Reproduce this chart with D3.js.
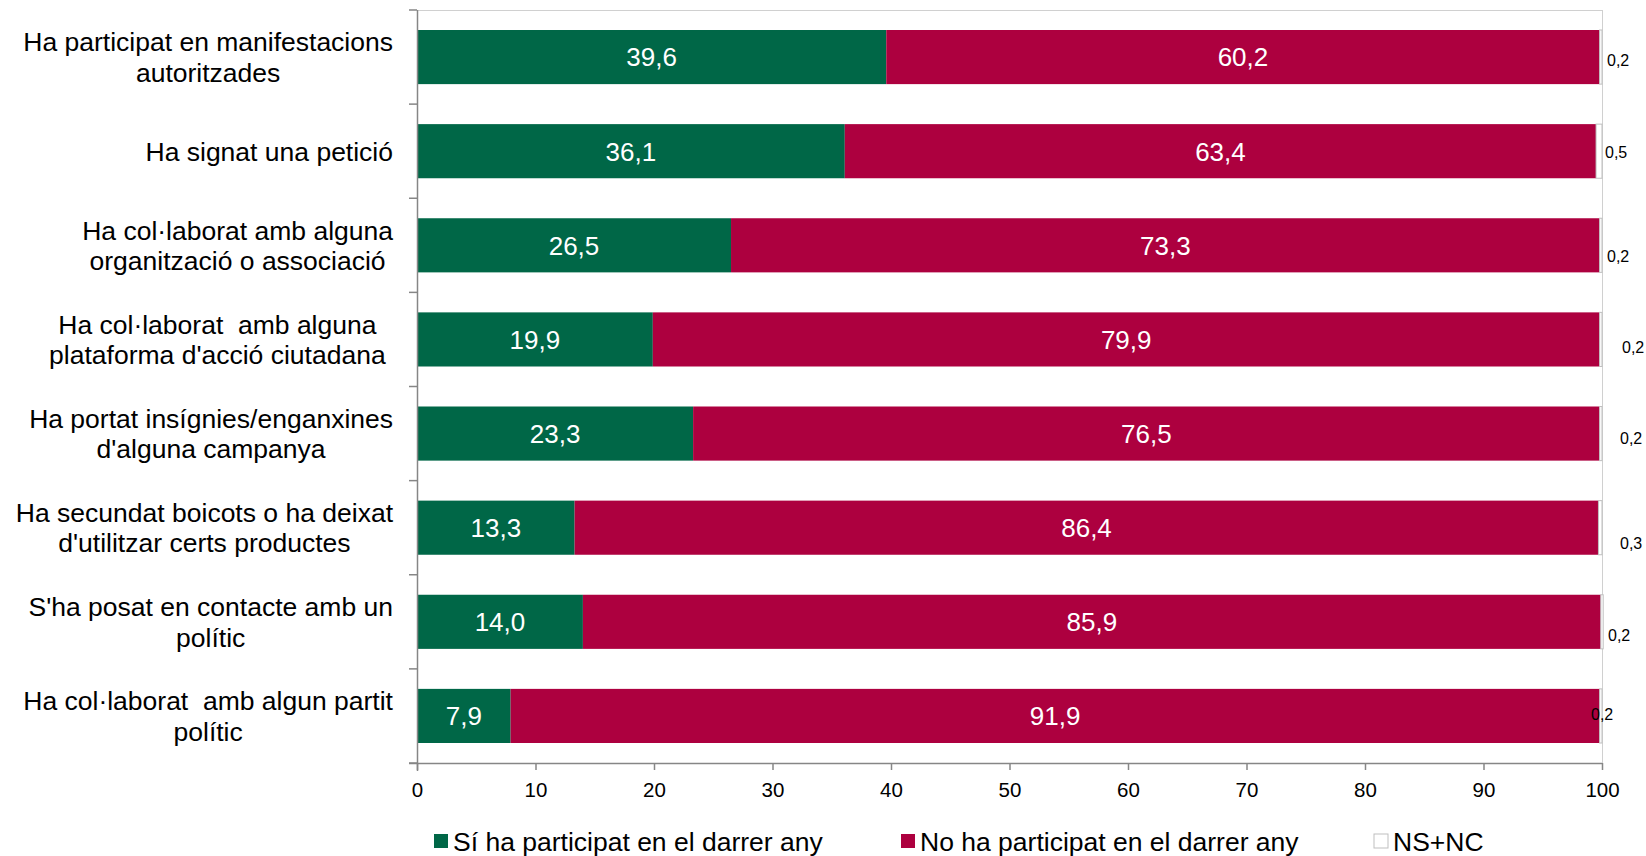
<!DOCTYPE html>
<html><head><meta charset="utf-8">
<script src="https://cdn.jsdelivr.net/npm/d3@7"></script>
<style>
body{margin:0;background:#fff}
text{font-family:"Liberation Sans",Arial,sans-serif;white-space:pre}
</style></head>
<body><svg id="c" width="1646" height="856"></svg>
<script>
// ---- data ----
const categories = [
  "Ha participat en manifestacions\nautoritzades",
  "Ha signat una petició",
  "Ha col·laborat amb alguna\norganització o associació",
  "Ha col·laborat  amb alguna \nplataforma d'acció ciutadana ",
  "Ha portat insígnies/enganxines\nd'alguna campanya",
  "Ha secundat boicots o ha deixat\nd'utilitzar certs productes",
  "S'ha posat en contacte amb un\npolític",
  "Ha col·laborat  amb algun partit\npolític"
];
const si   = [39.6, 36.1, 26.5, 19.9, 23.3, 13.3, 14.0, 7.9];
const no   = [60.2, 63.4, 73.3, 79.9, 76.5, 86.4, 85.9, 91.9];
const nsnc = [0.2, 0.5, 0.2, 0.2, 0.2, 0.3, 0.2, 0.2];
const seriesNames = ["Sí ha participat en el darrer any", "No ha participat en el darrer any", "NS+NC"];
const xTicks = [0, 10, 20, 30, 40, 50, 60, 70, 80, 90, 100];

// ---- layout / style ----
const colors = ["#006747", "#AD003F", "#ffffff"];
const strokes = ["none", "none", "#bfbfbf"];
const nsNudge = [[5,3],[3,1],[5,11],[20,8],[18,5],[18,16],[6,13],[-11,-2]];
const m = {left: 417, right: 1602, top: 10, bottom: 763};

const svg = d3.select("#c");
const keys = ["si","no","nsnc"];
const rows = categories.map((c,i)=>({cat:c, si:si[i], no:no[i], nsnc:nsnc[i]}));
const stack = d3.stack().keys(keys)(rows);

const x = d3.scaleLinear().domain([0,100]).range([m.left, m.right]);
const y = d3.scaleBand().domain(categories).range([m.top, m.bottom]).paddingInner(0.425).paddingOuter(0.2125);
const yb = d3.scaleBand().domain(categories).range([m.top, m.bottom]);
const fmt = v => d3.format(".1f")(v).replace(".", ",");

// plot border (top & right)
svg.append("line").attr("x1", m.left).attr("x2", m.right).attr("y1", m.top+0.5).attr("y2", m.top+0.5).attr("stroke","#d0d0d0");
svg.append("line").attr("x1", m.right+0.5).attr("x2", m.right+0.5).attr("y1", m.top).attr("y2", m.bottom).attr("stroke","#d0d0d0");

// bars
stack.forEach((s,k)=>{
  svg.append("g").selectAll("rect").data(s).join("rect")
    .attr("x", d=>x(d[0]))
    .attr("y", d=>y(d.data.cat))
    .attr("width", d=>Math.max(0, x(d[1])-x(d[0])))
    .attr("height", y.bandwidth())
    .attr("fill", colors[k])
    .attr("stroke", strokes[k])
    .attr("stroke-width", 1);
});

// value labels inside
[0,1].forEach(k=>{
  svg.append("g").selectAll("text").data(stack[k]).join("text")
    .attr("x", d=>(x(d[0])+x(d[1]))/2)
    .attr("y", d=>y(d.data.cat)+y.bandwidth()/2)
    .attr("dy","0.36em")
    .attr("text-anchor","middle")
    .attr("fill","#fff")
    .attr("font-size", 26)
    .text(d=>fmt(d.data[keys[k]]));
});
// NS+NC labels
svg.append("g").selectAll("text").data(stack[2]).join("text")
  .attr("x", (d,i)=>x(100)+nsNudge[i][0])
  .attr("y", (d,i)=>y(d.data.cat)+y.bandwidth()/2+nsNudge[i][1])
  .attr("dy","0.36em")
  .attr("fill","#000")
  .attr("font-size", 16)
  .text(d=>fmt(d.data.nsnc));

// y axis
const yAxis = svg.append("g").attr("transform", `translate(${m.left},0)`);
yAxis.append("line").attr("x1",0.5).attr("x2",0.5).attr("y1",m.top).attr("y2",m.bottom+8).attr("stroke","#868686").attr("stroke-width",1.5);
const bounds = categories.map(c=>yb(c)).concat([m.bottom]);
yAxis.selectAll("line.t").data(bounds).join("line").attr("class","t")
  .attr("x1",-8).attr("x2",0).attr("y1",d=>d).attr("y2",d=>d).attr("stroke","#868686").attr("stroke-width",1.5);

// category labels
const labelRight = 393;
const lg = svg.append("g");
categories.forEach(c=>{
  const lines = c.split("\n");
  const cy = y(c)+y.bandwidth()/2;
  const lh = 30.5;
  const g = lg.append("g");
  const ts = lines.map((l,j)=>g.append("text")
    .attr("xml:space","preserve")
    .attr("y", cy + (j-(lines.length-1)/2)*lh)
    .attr("dy","0.36em")
    .attr("font-size", 26.5)
    .attr("fill","#000")
    .attr("text-anchor","middle")
    .text(l));
  const w = d3.max(ts, t=>t.node().getComputedTextLength());
  ts.forEach(t=>t.attr("x", labelRight - w/2));
});

// x axis
const xAxis = svg.append("g").attr("transform", `translate(0,${m.bottom})`)
  .call(d3.axisBottom(x).tickValues(xTicks).tickSize(7).tickPadding(12).tickFormat(d=>d));
xAxis.select(".domain").attr("stroke","#868686").attr("stroke-width",1.5).attr("d", `M${m.left-8},0.5H${m.right}`);
xAxis.selectAll(".tick line").attr("stroke","#868686").attr("stroke-width",1.5);
xAxis.selectAll(".tick text").attr("font-size",20.5).attr("fill","#000").attr("font-family",'"Liberation Sans",Arial,sans-serif');

// legend
const legX = [434, 901, 1374];
const leg = svg.append("g");
seriesNames.forEach((n,k)=>{
  leg.append("rect").attr("x",legX[k]).attr("y",834).attr("width",14).attr("height",14)
    .attr("fill",colors[k]).attr("stroke", k===2?"#bfbfbf":"none");
  leg.append("text").attr("x",legX[k]+19).attr("y",841).attr("dy","0.36em")
    .attr("font-size",26.5).attr("fill","#000").text(n);
});
</script></body></html>
